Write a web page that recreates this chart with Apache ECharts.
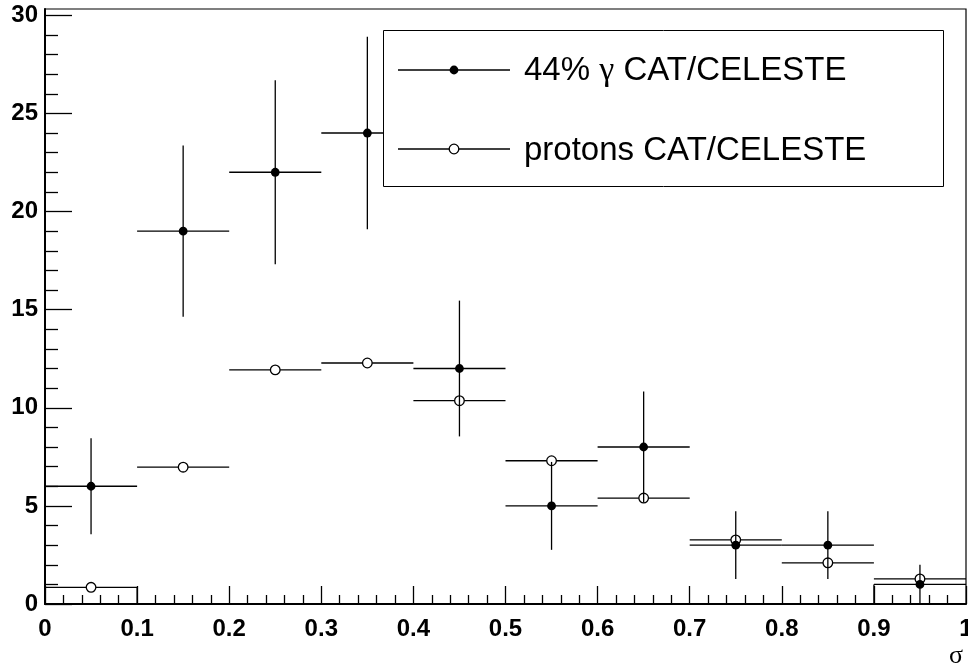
<!DOCTYPE html>
<html>
<head>
<meta charset="utf-8">
<script src="https://cdn.jsdelivr.net/npm/echarts@6/dist/echarts.min.js"></script>
<style>
html,body{margin:0;padding:0;background:#fff;}
#chart{width:968px;height:667px;}
</style>
</head>
<body>
<div id="chart"></div>
<script>
// ---- data ----
const binCenters   = [0.05, 0.15, 0.25, 0.35, 0.45, 0.55, 0.65, 0.75, 0.85, 0.95];
const binWidth     = 0.1;
const gammaValues  = [6, 19, 22, 24, 12, 5, 8, 3, 3, 1];
const gammaErrors  = [2.45, 4.36, 4.69, 4.9, 3.46, 2.24, 2.83, 1.73, 1.73, 1.0];
const protonValues = [0.85, 6.97, 11.93, 12.28, 10.36, 7.3, 5.4, 3.27, 2.1, 1.28];
const edgeX        = [0.1, 0.9];
const edgeTop      = [0.85, 1.0];
const yMajorTicks  = [0, 5, 10, 15, 20, 25, 30];
const yMinorTicks  = [1,2,3,4,6,7,8,9,11,12,13,14,16,17,18,19,21,22,23,24,26,27,28,29];
const legendNames  = ['44% ', 'γ', ' CAT/CELESTE', 'protons CAT/CELESTE'];
const xAxisTitle   = 'σ';

const chart = echarts.init(document.getElementById('chart'), null, {renderer: 'canvas'});

const gammaData  = binCenters.map((x, i) => [x, gammaValues[i], gammaErrors[i]]);
const protonData = binCenters.map((x, i) => [x, protonValues[i], 0]);
const edgeData   = edgeX.map((x, i) => [x, edgeTop[i]]);

const LW = 1.3;
const lineStyle = {stroke: '#000', lineWidth: LW};

function renderGamma(params, api) {
  const x = api.value(0), y = api.value(1), e = api.value(2);
  const pL = api.coord([x - binWidth / 2, y]);
  const pR = api.coord([x + binWidth / 2, y]);
  const c  = api.coord([x, y]);
  const pB = api.coord([x, Math.max(0, y - e)]);
  const pT = api.coord([x, y + e]);
  return {
    type: 'group',
    children: [
      {type: 'line', shape: {x1: pL[0], y1: pL[1], x2: pR[0], y2: pR[1]}, style: lineStyle},
      {type: 'line', shape: {x1: pB[0], y1: pB[1], x2: pT[0], y2: pT[1]}, style: lineStyle},
      {type: 'circle', shape: {cx: c[0], cy: c[1], r: 4.4}, style: {fill: '#000'}}
    ]
  };
}

function renderProton(params, api) {
  const x = api.value(0), y = api.value(1);
  const pL = api.coord([x - binWidth / 2, y]);
  const pR = api.coord([x + binWidth / 2, y]);
  const c  = api.coord([x, y]);
  const r = 4.8;
  return {
    type: 'group',
    children: [
      {type: 'line', shape: {x1: pL[0], y1: pL[1], x2: c[0] - r, y2: c[1]}, style: lineStyle},
      {type: 'line', shape: {x1: c[0] + r, y1: c[1], x2: pR[0], y2: pR[1]}, style: lineStyle},
      {type: 'circle', shape: {cx: c[0], cy: c[1], r: r}, style: {fill: 'none', stroke: '#000', lineWidth: 1.3}}
    ]
  };
}

function renderEdge(params, api) {
  const x = api.value(0), y = api.value(1);
  const p0 = api.coord([x, 0]);
  const p1 = api.coord([x, y]);
  return {type: 'line', shape: {x1: p0[0], y1: p0[1], x2: p1[0], y2: p1[1]}, style: lineStyle};
}

const labelFont = {fontFamily: '"Liberation Sans", Arial, sans-serif', fontWeight: 'bold', fontSize: 24, color: '#000'};

const option = {
  backgroundColor: '#fff',
  animation: false,
  grid: {left: 45, right: 2, top: 9, bottom: 63, containLabel: false, outerBoundsMode: 'none',
         show: true, borderColor: '#000', borderWidth: 1.2, backgroundColor: 'transparent'},
  xAxis: {
    type: 'value', min: 0, max: 1, interval: 0.1,
    axisLine: {show: true, lineStyle: {color: '#000', width: 2}},
    axisTick: {show: true, inside: true, length: 18, lineStyle: {color: '#000', width: 1.3}},
    minorTick: {show: true, splitNumber: 5, length: 9, lineStyle: {color: '#000', width: 1.3}},
    axisLabel: Object.assign({margin: 13, hideOverlap: false}, labelFont),
    splitLine: {show: false}, minorSplitLine: {show: false}
  },
  yAxis: [
    {
      type: 'value', min: 0, max: 30.32,
      axisLine: {show: true, lineStyle: {color: '#000', width: 2}},
      axisTick: {show: true, inside: true, length: 27, customValues: yMajorTicks, lineStyle: {color: '#000', width: 1.3}},
      axisLabel: Object.assign({margin: 7, customValues: yMajorTicks}, labelFont),
      splitLine: {show: false}
    },
    {
      type: 'value', min: 0, max: 30.32, position: 'left', offset: 0,
      axisLine: {show: false},
      axisTick: {show: true, inside: true, length: 13, customValues: yMinorTicks, lineStyle: {color: '#000', width: 1.3}},
      axisLabel: {show: false},
      splitLine: {show: false}
    }
  ],
  series: [
    {type: 'custom', name: 'gamma', renderItem: renderGamma, data: gammaData, encode: {x: 0, y: 1}, z: 3, clip: false},
    {type: 'custom', name: 'protons', renderItem: renderProton, data: protonData, encode: {x: 0, y: 1}, z: 4, clip: false},
    {type: 'custom', name: 'edges', renderItem: renderEdge, data: edgeData, encode: {x: 0, y: 1}, z: 3, clip: false}
  ],
  graphic: [
    {type: 'rect', z: 100, shape: {x: 383.5, y: 30.5, width: 560, height: 156}, style: {fill: '#fff', stroke: '#000', lineWidth: 1}},
    {type: 'line', z: 101, shape: {x1: 398, y1: 70, x2: 510, y2: 70}, style: lineStyle},
    {type: 'circle', z: 102, shape: {cx: 454, cy: 70, r: 4.4}, style: {fill: '#000'}},
    {type: 'line', z: 101, shape: {x1: 398, y1: 149, x2: 449.2, y2: 149}, style: lineStyle},
    {type: 'line', z: 101, shape: {x1: 458.8, y1: 149, x2: 510, y2: 149}, style: lineStyle},
    {type: 'circle', z: 102, shape: {cx: 454, cy: 149, r: 4.8}, style: {fill: 'none', stroke: '#000', lineWidth: 1.3}},
    {type: 'text', z: 102, x: 524, y: 71, style: {
      text: legendNames[0] + '{g|' + legendNames[1] + '}' + legendNames[2],
      font: '33px "Liberation Sans", Arial, sans-serif', fill: '#000', verticalAlign: 'middle', align: 'left',
      rich: {g: {fontFamily: '"Liberation Serif", serif', fontSize: 34, fill: '#000'}}
    }},
    {type: 'text', z: 102, x: 524, y: 151, style: {
      text: legendNames[3], font: '33px "Liberation Sans", Arial, sans-serif', fill: '#000', verticalAlign: 'middle', align: 'left'
    }},
    {type: 'text', z: 102, x: 963, y: 656, style: {
      text: xAxisTitle, font: '26px "Liberation Serif", serif', fill: '#000', verticalAlign: 'middle', align: 'right'
    }}
  ]
};
chart.setOption(option);
</script>
</body>
</html>
